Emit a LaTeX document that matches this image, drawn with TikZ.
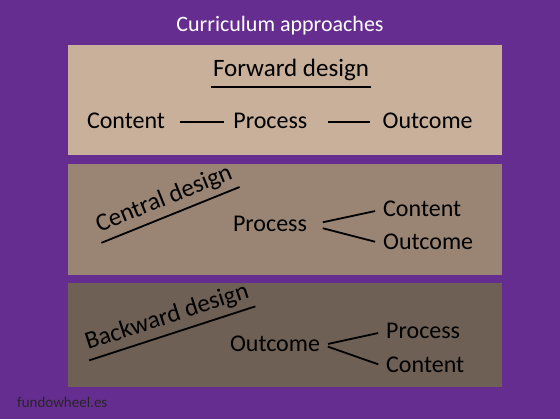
\documentclass[tikz,border=0pt]{standalone}
\usepackage{fontspec}
\setmainfont{Carlito}
\usetikzlibrary{positioning,calc}
\definecolor{bgpurple}{RGB}{102,45,145}
\definecolor{panelA}{RGB}{200,176,154}
\definecolor{panelB}{RGB}{154,133,116}
\definecolor{panelC}{RGB}{110,96,84}

\begin{document}
\begin{tikzpicture}[
    x=1pt, y=-1pt,
    node distance=60pt,
    panel/.style={rectangle, draw=none, minimum width=434pt, inner sep=0pt},
    word/.style={font=\fontsize{24}{28}\selectfont, text height=16pt, text depth=2pt, inner sep=3pt},
    heading/.style={font=\fontsize{25}{29}\selectfont, text height=16pt, text depth=2pt, inner xsep=2pt, inner ysep=8pt},
    link/.style={line width=1.8pt}
]
    \fill[bgpurple] (0,0) rectangle (560,419);
    \useasboundingbox (0,0) rectangle (560,419);

    \node (title) [text=white, font=\fontsize{22}{26}\selectfont, text height=15pt, text depth=4pt] at (280,26) {Curriculum approaches};
    \node (site) [anchor=west, inner sep=3pt, font=\fontsize{15}{18}\selectfont, text=black!85] at (14,402) {fundowheel.es};

    \node (panel1) [panel, fill=panelA, minimum height=110pt] at (285,100) {};
    \node (panel2) [panel, fill=panelB, minimum height=111pt] at (285,219.5) {};
    \node (panel3) [panel, fill=panelC, minimum height=104pt] at (285,335) {};

    % forward design
    \node (forward) [heading] at (291,70) {Forward design};
    \node (content1) [word] at (126,122) {Content};
    \node (process1) [word, right=62pt of content1] {Process};
    \node (outcome1) [word, right=69pt of process1] {Outcome};
    \draw[link] (forward.south west) -- (forward.south east);
    \draw[link, shorten <=12pt, shorten >=6pt] (content1) -- (process1);
    \draw[link, shorten <=18pt, shorten >=9pt] (process1) -- (outcome1);

    % central design
    \node (central) [heading, rotate=22] at (164,199) {Central design};
    \node (process2) [word] at (270,225) {Process};
    \node (content2) [word, anchor=west] at (380,210) {Content};
    \node (outcome2) [word, anchor=west] at (380,243) {Outcome};
    \draw[link] (central.south west) -- (central.south east);
    \draw[link, shorten <=13pt, shorten >=5pt] (process2.east) -- (content2.west);
    \draw[link, shorten <=13pt, shorten >=5pt] (process2.east) -- (outcome2.west);

    % backward design
    \node (backward) [heading, rotate=18] at (167,317) {Backward design};
    \node (outcome3) [word] at (275,345) {Outcome};
    \node (process3) [word, anchor=west] at (383,332) {Process};
    \node (content3) [word, anchor=west] at (383,366) {Content};
    \draw[link] (backward.south west) -- (backward.south east);
    \draw[link, shorten <=5pt, shorten >=5pt] (outcome3.east) -- (process3.west);
    \draw[link, shorten <=5pt, shorten >=5pt] (outcome3.east) -- (content3.west);
\end{tikzpicture}
\end{document}
